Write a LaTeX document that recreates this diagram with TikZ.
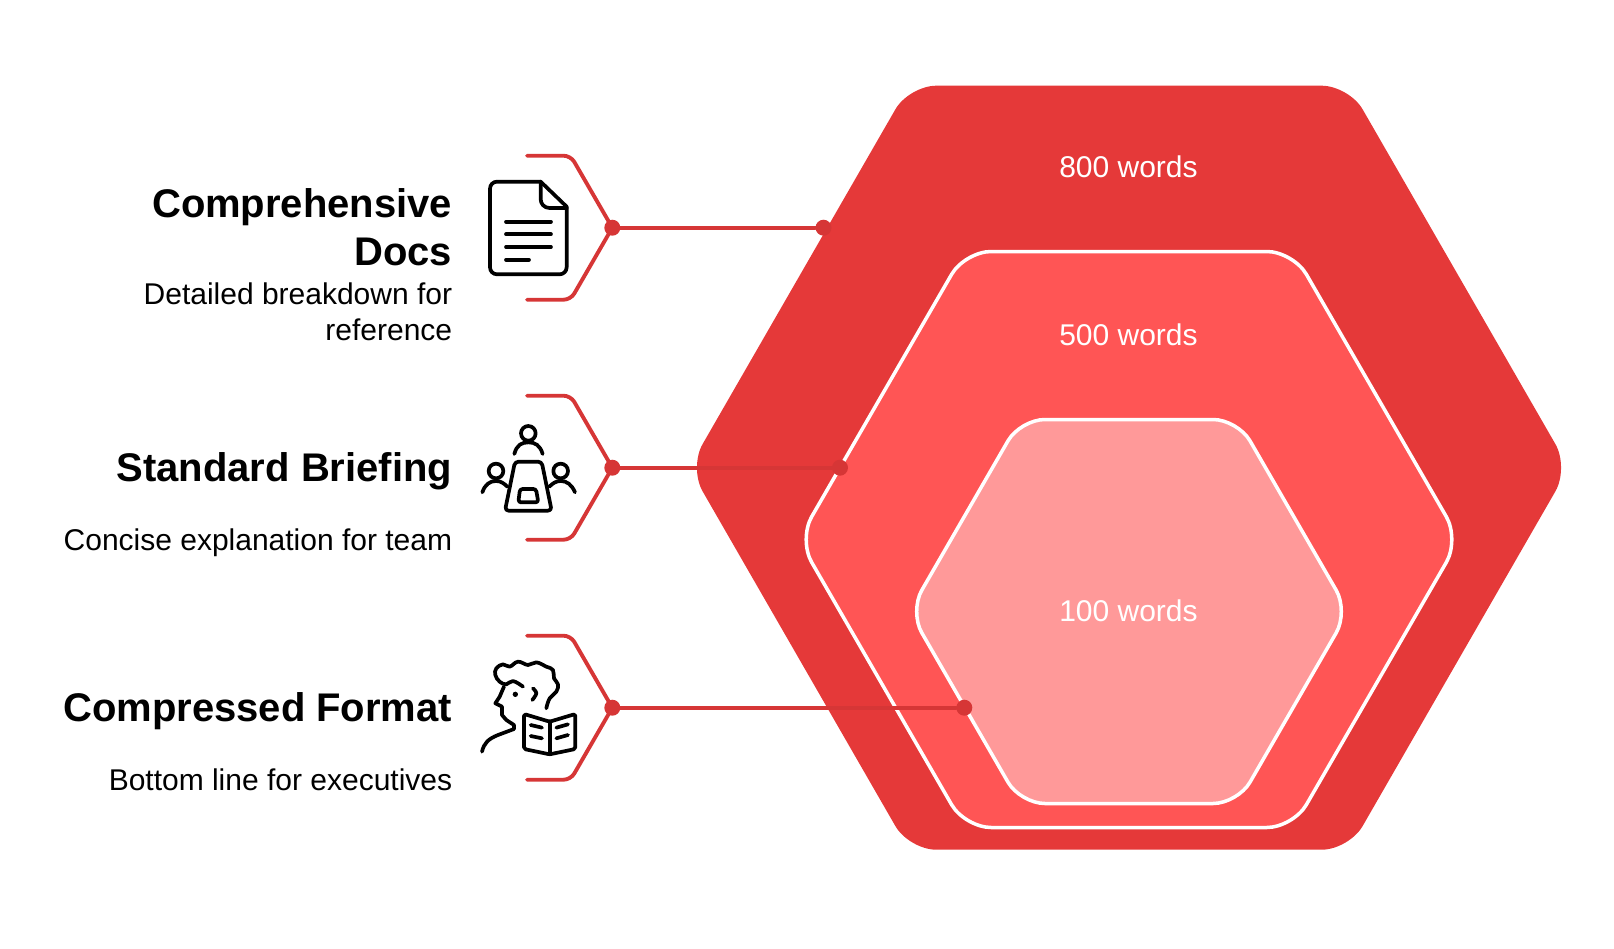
\documentclass[tikz,border=0pt]{standalone}
\usepackage{fontspec}
\setmainfont{Liberation Sans}
\definecolor{hexouter}{HTML}{E53939}
\definecolor{hexmiddle}{HTML}{FF5555}
\definecolor{hexinner}{HTML}{FF9999}
\definecolor{linkred}{HTML}{D63636}
\tikzset{
  titletext/.style={anchor=base east, align=right, inner sep=0pt, font=\fontsize{22.76}{27.3}\selectfont\bfseries},
  desctext/.style={anchor=base east, align=right, inner sep=0pt, font=\fontsize{17.07}{20.2}\selectfont},
  wordstext/.style={inner sep=0pt, text=white, font=\fontsize{17.07}{20.5}\selectfont},
  link/.style={linkred, line width=2.2pt, line cap=round},
  dot/.style={circle, fill=linkred, inner sep=0pt, minimum size=9.1pt},
  iconline/.style={black, line width=2.1pt, line cap=round, line join=round},
}
\begin{document}
\begin{tikzpicture}[x=0.02cm, y=-0.02cm]
  \useasboundingbox (0,0) rectangle (1614,948);

  % Hexagons
  \fill[hexouter, rounded corners=15.5pt] (689,467.7) -- (909,85.7) -- (1349,85.7) -- (1569,467.7) -- (1349,849.7) -- (909,849.7) -- cycle;
  \filldraw[fill=hexmiddle, draw=white, line width=2pt, rounded corners=15pt] (798.5,539.5) -- (964.8,251.5) -- (1293.2,251.5) -- (1459.5,539.5) -- (1293.2,827.5) -- (964.8,827.5) -- cycle;
  \filldraw[fill=hexinner, draw=white, line width=2pt, rounded corners=14pt] (909.5,611.5) -- (1020.3,419.5) -- (1237.7,419.5) -- (1348.5,611.5) -- (1237.7,803.5) -- (1020.3,803.5) -- cycle;

  % Labels on the hexagons
  \node[wordstext] (words800) at (1128.5,166.5) {800 words};
  \node[wordstext] (words500) at (1128.5,334.5) {500 words};
  \node[wordstext] (words100) at (1128.5,610.5) {100 words};

  % Text on the left
  \node[titletext] (title1) at (452.5,265) {Comprehensive\\Docs};
  \node[desctext] (desc1) at (452.5,340) {Detailed breakdown for\\reference};
  \node[titletext] (title2) at (452.5,481) {Standard Briefing};
  \node[desctext] (desc2) at (452.5,550) {Concise explanation for team};
  \node[titletext] (title3) at (452.5,721) {Compressed Format};
  \node[desctext] (desc3) at (452.5,790.5) {Bottom line for executives};

  % Brackets and links
  \node[dot] (hub1) at (612.3,227.7) {};
  \node[dot] (end1) at (823.5,227.7) {};
  \coordinate (top1) at (527,155.7);
  \coordinate (knee1a) at (570.7,155.7);
  \coordinate (knee1b) at (570.7,299.7);
  \coordinate (bot1) at (527,299.7);
  \draw[link, rounded corners=4pt] (top1) -- (knee1a) -- (hub1.center) -- (knee1b) -- (bot1);
  \draw[link] (hub1) -- (end1);

  \node[dot] (hub2) at (612.3,467.7) {};
  \node[dot] (end2) at (840,467.7) {};
  \coordinate (top2) at (527,395.7);
  \coordinate (knee2a) at (570.7,395.7);
  \coordinate (knee2b) at (570.7,539.7);
  \coordinate (bot2) at (527,539.7);
  \draw[link, rounded corners=4pt] (top2) -- (knee2a) -- (hub2.center) -- (knee2b) -- (bot2);
  \draw[link] (hub2) -- (end2);

  \node[dot] (hub3) at (612.3,707.7) {};
  \node[dot] (end3) at (964.3,707.7) {};
  \coordinate (top3) at (527,635.7);
  \coordinate (knee3a) at (570.7,635.7);
  \coordinate (knee3b) at (570.7,779.7);
  \coordinate (bot3) at (527,779.7);
  \draw[link, rounded corners=4pt] (top3) -- (knee3a) -- (hub3.center) -- (knee3b) -- (bot3);
  \draw[link] (hub3) -- (end3);

  % Document icon
  \begin{scope}[shift={(470,140)}, scale=0.3333]
    \draw[iconline] (212,125) [rounded corners=4pt] -- (60,125) -- (60,403) -- (290,403) -- (290,300) [sharp corners] -- (290,200) -- cycle;
    \draw[iconline, rounded corners=5pt] (212,125) -- (212,204) -- (290,204);
    \draw[iconline] (108,245) -- (243,245);
    \draw[iconline] (108,283) -- (243,283);
    \draw[iconline] (108,321) -- (243,321);
    \draw[iconline] (108,359) -- (177,359);
  \end{scope}

  % Meeting icon
  \begin{scope}[shift={(470,385)}, scale=0.3333]
    \draw[iconline] (175,145) circle[radius=22];
    \draw[iconline] (133,207) .. controls (140,180) and (155,172) .. (175,172) .. controls (195,172) and (210,180) .. (218,207);
    \draw[iconline] (78,258) circle[radius=22];
    \draw[iconline] (37,322) .. controls (45,298) and (60,288) .. (78,288) .. controls (92,288) and (102,295) .. (112,305);
    \draw[iconline] (272,258) circle[radius=22];
    \draw[iconline] (238,305) .. controls (248,295) and (258,288) .. (272,288) .. controls (290,288) and (305,298) .. (315,322);
    \draw[iconline, rounded corners=2pt] (135,230) -- (215,230) -- (245,377) -- (105,377) -- cycle;
    \draw[iconline, rounded corners=1.5pt] (150,312) -- (198,312) -- (205,352) -- (145,352) -- cycle;
  \end{scope}

  % Reader icon
  \begin{scope}[shift={(478,655)}, scale=0.3333]
    \draw[iconline] plot[smooth, tension=0.7] coordinates {(135,95) (105,78) (85,88) (65,80) (52,60) (55,40) (75,28) (95,35) (120,20) (150,30) (175,22) (205,35) (225,45) (228,70) (240,88) (235,110) (215,130) (205,160)};
    \draw[iconline] plot[smooth, tension=0.6] coordinates {(165,100) (175,115) (163,135)};
    \fill (112,118) circle[radius=8];
    \draw[iconline] (78,95) -- (65,125) -- (52,145) -- (72,155) -- (72,180) -- (85,195) -- (108,210) -- (108,222) -- (60,240) .. controls (30,252) and (18,265) .. (12,290);
    \draw[iconline, rounded corners=1pt] (138,177) -- (215,200) -- (292,177) -- (292,282) -- (215,298) -- (138,282) -- cycle;
    \draw[iconline] (215,200) -- (215,298);
    \draw[iconline] (158,210) -- (192,218);
    \draw[iconline] (158,243) -- (192,250);
    \draw[iconline] (235,218) -- (270,208);
    \draw[iconline] (235,250) -- (270,240);
  \end{scope}
\end{tikzpicture}
\end{document}
